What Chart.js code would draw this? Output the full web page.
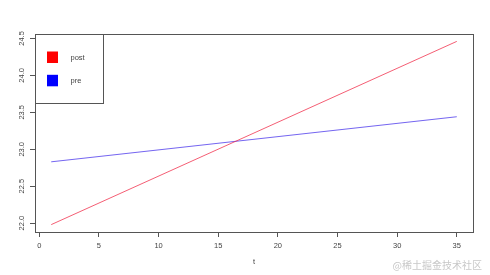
<!DOCTYPE html>
<html>
<head>
<meta charset="utf-8">
<title>post / pre</title>
<script src="https://cdn.jsdelivr.net/npm/chart.js@4.4.0/dist/chart.umd.min.js"></script>
<style>
  body { margin: 0; background: #fff; }
</style>
</head>
<body>
<canvas id="myChart" width="490" height="275"></canvas>
<script>
// data
var tValues = [1, 35];
var postValues = [21.98, 24.46];
var preValues = [22.83, 23.44];
var seriesNames = ['post', 'pre'];
var xTicks = [0, 5, 10, 15, 20, 25, 30, 35];
var yTicks = [22.0, 22.5, 23.0, 23.5, 24.0, 24.5];
var xRange = [-0.36, 36.36];
var yRange = [21.88, 24.56];
var xTitle = 't';
var watermark = '@稀土掘金技术社区';

var fontFam = '"Liberation Sans", Arial, sans-serif';
var legendColors = ['#ff0000', '#0000ff'];
var lineColors = ['rgba(240,40,70,0.75)', 'rgba(70,50,235,0.75)'];

function toPoints(xs, ys) {
  return xs.map(function (x, i) { return { x: x, y: ys[i] }; });
}

// box, rotated y labels, legend, x title, watermark
var rPlotExtras = {
  id: 'rPlotExtras',
  afterDraw: function (chart) {
    var ctx = chart.ctx;
    var a = chart.chartArea;
    var ys = chart.scales.y;
    var xs = chart.scales.x;
    ctx.save();
    ctx.strokeStyle = '#555';
    ctx.lineWidth = 1;
    ctx.strokeRect(Math.round(a.left) + 0.5, Math.round(a.top) + 0.5,
      Math.round(a.right - a.left), Math.round(a.bottom - a.top));

    ctx.fillStyle = '#444';
    ctx.font = '7.5px ' + fontFam;
    ctx.textAlign = 'center';
    ctx.textBaseline = 'middle';
    yTicks.forEach(function (v) {
      var py = ys.getPixelForValue(v);
      ctx.save();
      ctx.translate(a.left - 13.5, py);
      ctx.rotate(-Math.PI / 2);
      ctx.fillText(v.toFixed(1), 0, 0);
      ctx.restore();
    });

    ctx.fillText(xTitle, (xs.left + xs.right) / 2, a.bottom + 30);

    // legend box
    var lx = Math.round(a.left) + 0.5, ly = Math.round(a.top) + 0.5;
    ctx.strokeRect(lx, ly, 68, 69);
    seriesNames.forEach(function (name, i) {
      var sy = ly + 17 + i * 23.3;
      ctx.fillStyle = legendColors[i];
      ctx.fillRect(lx + 11.5, sy, 11, 11.5);
      ctx.fillStyle = '#444';
      ctx.textAlign = 'left';
      ctx.fillText(name, lx + 35, sy + 6);
    });

    ctx.font = '10px "Noto Sans CJK SC"';
    ctx.fillStyle = '#c8c8c8';
    ctx.textAlign = 'right';
    ctx.fillText(watermark, 482, 265);
    ctx.restore();
  }
};

var ctx = document.getElementById('myChart').getContext('2d');
var chart = new Chart(ctx, {
  type: 'scatter',
  data: {
    datasets: [{
      label: seriesNames[0],
      data: toPoints(tValues, postValues),
      showLine: true,
      borderColor: lineColors[0],
      borderWidth: 1,
      pointRadius: 0
    }, {
      label: seriesNames[1],
      data: toPoints(tValues, preValues),
      showLine: true,
      borderColor: lineColors[1],
      borderWidth: 1,
      pointRadius: 0
    }]
  },
  options: {
    responsive: false,
    animation: false,
    layout: { padding: { top: 34, right: 17, left: 0, bottom: 0 } },
    plugins: { legend: { display: false }, tooltip: { enabled: false } },
    scales: {
      x: {
        type: 'linear',
        min: xRange[0],
        max: xRange[1],
        afterBuildTicks: function (s) { s.ticks = xTicks.map(function (v) { return { value: v }; }); },
        afterFit: function (s) { s.height = 43; },
        grid: { drawOnChartArea: false, drawTicks: true, tickLength: 5, color: '#555' },
        border: { display: false },
        ticks: { padding: 4, color: '#444', font: { size: 7.5, family: fontFam }, maxRotation: 0 }
      },
      y: {
        type: 'linear',
        min: yRange[0],
        max: yRange[1],
        afterBuildTicks: function (s) { s.ticks = yTicks.map(function (v) { return { value: v }; }); },
        afterFit: function (s) { s.width = 35; },
        grid: { drawOnChartArea: false, drawTicks: true, tickLength: 5, color: '#555' },
        border: { display: false },
        ticks: { color: 'rgba(0,0,0,0)', font: { size: 7.5, family: fontFam } }
      }
    }
  },
  plugins: [rPlotExtras]
});
</script>
</body>
</html>
